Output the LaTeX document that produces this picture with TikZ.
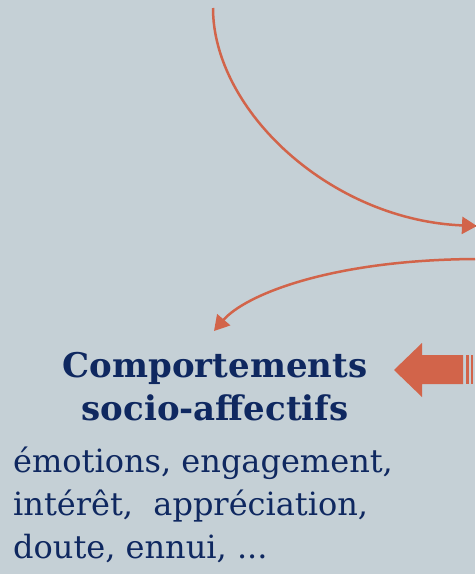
\documentclass[tikz,border=0pt]{standalone}
\usepackage{fontspec}
\setmainfont{DejaVu Serif}
\usepackage{tikz}
\usetikzlibrary{arrows.meta}
\definecolor{fondGris}{HTML}{C5D0D6}
\definecolor{flecheOrange}{HTML}{D2644A}
\definecolor{texteMarine}{HTML}{0F2860}

\tikzset{
  courbe/.style={flecheOrange,line width=2.5pt,-{Triangle[length=15pt,width=17pt]}},
  titre/.style={texteMarine,font=\bfseries\fontsize{34}{43}\selectfont,align=center,inner sep=0pt},
  liste/.style={texteMarine,font=\fontsize{32}{43}\selectfont,align=left,inner sep=0pt}
}

\begin{document}
\begin{tikzpicture}[x=1pt,y=-1pt]
\fill[fondGris] (0,0) rectangle (475,574);
\useasboundingbox (0,0) rectangle (475,574);
% extremites des deux courbes
\coordinate (haut) at (213,8);
\coordinate (droite1) at (477,226);
\coordinate (droite2) at (475,259);
\coordinate (bas) at (214,331);
\draw[courbe] (haut) .. controls (213,110) and (330,220) .. (droite1);
\draw[courbe] (droite2) .. controls (330,260) and (245,295) .. (bas);
% grosse fleche vers la gauche
\fill[flecheOrange] (394,370) -- (422,343) -- (422,355) -- (463,355) -- (463,384)
  -- (422,384) -- (422,397) -- cycle;
\fill[flecheOrange] (466,355) rectangle (468.5,384);
\fill[flecheOrange] (470.5,355) rectangle (473,384);
% textes (ancre sur la ligne de base de la derniere ligne)
\node[titre,anchor=base] (comportements) at (215,420) {Comportements\\socio-affectifs};
\node[liste,anchor=base west] (exemples) at (13,558)
  {émotions, engagement,\\intérêt,~ appréciation,\\doute, ennui, ...};
\end{tikzpicture}
\end{document}
